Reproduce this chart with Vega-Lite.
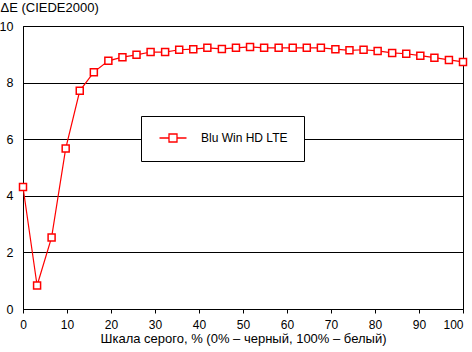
{
  "$schema": "https://vega.github.io/schema/vega-lite/v6.json",
  "width": 440,
  "height": 283,
  "autosize": {"type": "none"},
  "padding": {"left": 23, "top": 26, "right": 9, "bottom": 43},
  "background": "white",
  "config": {
    "view": {"stroke": "black", "strokeWidth": 1},
    "font": "Liberation Sans",
    "axis": {"labelFont": "Liberation Sans", "titleFont": "Liberation Sans", "labelColor": "black", "titleColor": "black", "labelFontSize": 12.5, "titleFontSize": 13, "titleFontWeight": "normal"}
  },
  "data": {"values": [
    {"x": 0, "y": 4.31, "s": "Blu Win HD LTE"},
    {"x": 3.2, "y": 0.83, "s": "Blu Win HD LTE"},
    {"x": 6.5, "y": 2.53, "s": "Blu Win HD LTE"},
    {"x": 9.7, "y": 5.67, "s": "Blu Win HD LTE"},
    {"x": 12.9, "y": 7.71, "s": "Blu Win HD LTE"},
    {"x": 16.1, "y": 8.37, "s": "Blu Win HD LTE"},
    {"x": 19.4, "y": 8.77, "s": "Blu Win HD LTE"},
    {"x": 22.6, "y": 8.9, "s": "Blu Win HD LTE"},
    {"x": 25.8, "y": 8.98, "s": "Blu Win HD LTE"},
    {"x": 29.0, "y": 9.08, "s": "Blu Win HD LTE"},
    {"x": 32.3, "y": 9.08, "s": "Blu Win HD LTE"},
    {"x": 35.5, "y": 9.16, "s": "Blu Win HD LTE"},
    {"x": 38.7, "y": 9.18, "s": "Blu Win HD LTE"},
    {"x": 41.9, "y": 9.23, "s": "Blu Win HD LTE"},
    {"x": 45.2, "y": 9.19, "s": "Blu Win HD LTE"},
    {"x": 48.4, "y": 9.23, "s": "Blu Win HD LTE"},
    {"x": 51.6, "y": 9.26, "s": "Blu Win HD LTE"},
    {"x": 54.8, "y": 9.23, "s": "Blu Win HD LTE"},
    {"x": 58.1, "y": 9.23, "s": "Blu Win HD LTE"},
    {"x": 61.3, "y": 9.23, "s": "Blu Win HD LTE"},
    {"x": 64.5, "y": 9.23, "s": "Blu Win HD LTE"},
    {"x": 67.7, "y": 9.23, "s": "Blu Win HD LTE"},
    {"x": 71.0, "y": 9.18, "s": "Blu Win HD LTE"},
    {"x": 74.2, "y": 9.14, "s": "Blu Win HD LTE"},
    {"x": 77.4, "y": 9.16, "s": "Blu Win HD LTE"},
    {"x": 80.6, "y": 9.12, "s": "Blu Win HD LTE"},
    {"x": 83.9, "y": 9.05, "s": "Blu Win HD LTE"},
    {"x": 87.1, "y": 9.02, "s": "Blu Win HD LTE"},
    {"x": 90.3, "y": 8.95, "s": "Blu Win HD LTE"},
    {"x": 93.5, "y": 8.88, "s": "Blu Win HD LTE"},
    {"x": 96.8, "y": 8.8, "s": "Blu Win HD LTE"},
    {"x": 100, "y": 8.73, "s": "Blu Win HD LTE"}
  ]},
  "encoding": {
    "x": {
      "field": "x", "type": "quantitative",
      "scale": {"domain": [0, 100], "nice": false, "zero": false},
      "axis": {
        "values": [0, 10, 20, 30, 40, 50, 60, 70, 80, 90, 100],
        "title": "Шкала серого, % (0% – черный, 100% – белый)",
        "grid": false, "domainColor": "black", "tickColor": "black", "tickSize": 4,
        "labelPadding": 6, "titlePadding": 2, "labelFlush": false, "labelFontSize": 12,
        "labelAlign": {"expr": "datum.value == 100 ? 'right' : 'center'"},
        "labelDx": {"expr": "datum.value == 100 ? 5 : 0"}
      }
    },
    "y": {
      "field": "y", "type": "quantitative",
      "scale": {"domain": [0, 10], "nice": false},
      "axis": {
        "values": [0, 2, 4, 6, 8, 10],
        "title": "ΔE (CIEDE2000)",
        "titleAngle": 0, "titleX": -23, "titleY": -15, "titleAlign": "left", "titleBaseline": "alphabetic",
        "grid": true, "gridColor": "black", "gridOpacity": 1, "gridWidth": 1,
        "domainColor": "black", "ticks": false, "labelPadding": 10, "labelFlush": false
      }
    },
    "color": {
      "field": "s", "type": "nominal",
      "scale": {"range": ["red"]},
      "legend": {
        "title": null,
        "orient": "none", "legendX": 118, "legendY": 90,
        "fillColor": "white", "strokeColor": "black", "padding": 16,
        "labelFont": "Liberation Sans", "labelFontSize": 12, "labelColor": "black",
        "symbolType": "M-2.7,0H-0.8M0.8,0H2.7M-0.8,-0.8H0.8V0.8H-0.8Z",
        "symbolSize": 100, "symbolOffset": 10, "labelOffset": 22,
        "symbolFillColor": "white", "symbolStrokeColor": "red", "symbolStrokeWidth": 1.3,
        "encode": {"symbols": {"update": {"fill": {"value": "white"}, "stroke": {"value": "red"}, "strokeWidth": {"value": 1.3}, "opacity": {"value": 1}}}}
      }
    }
  },
  "layer": [
    {"mark": {"type": "line", "strokeWidth": 1.2}},
    {"mark": {"type": "point", "shape": "square", "filled": false, "fill": "white", "fillOpacity": 1, "opacity": 1, "size": 49, "strokeWidth": 1.5}}
  ]
}
